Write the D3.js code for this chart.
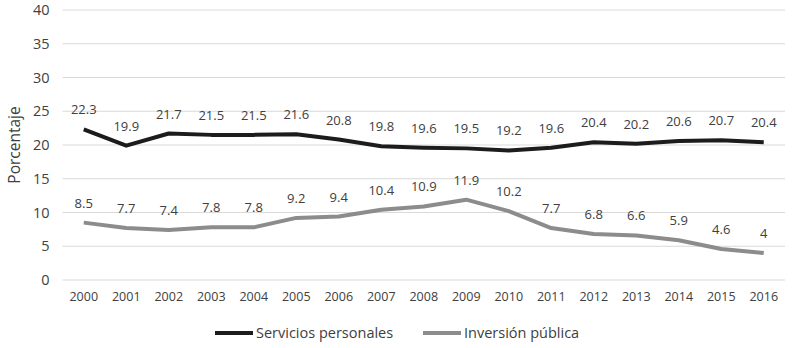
<!DOCTYPE html>
<html>
<head>
<meta charset="utf-8">
<script src="https://cdn.jsdelivr.net/npm/d3@7"></script>
<style>
  html, body { margin: 0; padding: 0; background: #fff; }
  svg { display: block; }
</style>
</head>
<body>
<div id="chart"></div>
<script>
// years along the x axis
const YEARS = ['2000','2001','2002','2003','2004','2005','2006','2007','2008',
  '2009','2010','2011','2012','2013','2014','2015','2016'];
// percentage values per series
const SERVICIOS = [22.3, 19.9, 21.7, 21.5, 21.5, 21.6, 20.8, 19.8, 19.6, 19.5, 19.2, 19.6, 20.4, 20.2, 20.6, 20.7, 20.4];
const INVERSION = [8.5, 7.7, 7.4, 7.8, 7.8, 9.2, 9.4, 10.4, 10.9, 11.9, 10.2, 7.7, 6.8, 6.6, 5.9, 4.6, 4];
const Y_TICKS = [0, 5, 10, 15, 20, 25, 30, 35, 40];
const SERIES_NAMES = ['Servicios personales', 'Inversión pública'];

const W = 800, H = 348;
const m = { t: 10, r: 15, b: 68, l: 62.5 };
const FONT = "'Open Sans', 'Noto Sans', sans-serif";
const TEXT = '#404040';

const svg = d3.select('#chart').append('svg')
  .attr('width', W).attr('height', H);

const x = d3.scaleBand().domain(YEARS).range([m.l, W - m.r]);
const y = d3.scaleLinear().domain([0, 40]).range([H - m.b, m.t]);
const cx = d => x(d) + x.bandwidth() / 2;

// grid
svg.append('g').selectAll('line')
  .data(Y_TICKS).join('line')
  .attr('x1', m.l).attr('x2', W - m.r)
  .attr('y1', d => y(d)).attr('y2', d => y(d))
  .attr('stroke', '#d9d9d9').attr('stroke-width', 1);

// y axis labels
svg.append('g').attr('transform', `translate(${m.l - 13},0)`)
  .call(d3.axisLeft(y).tickValues(Y_TICKS).tickSize(0).tickPadding(0))
  .attr('font-family', FONT).attr('font-size', 14.5).attr('color', TEXT)
  .call(g => g.select('.domain').remove());

// x axis labels
svg.append('g').attr('transform', `translate(0,${y(0) + 12})`)
  .call(d3.axisBottom(x).tickSize(0).tickPadding(0))
  .attr('font-family', FONT).attr('font-size', 12.5).attr('color', TEXT)
  .call(g => g.select('.domain').remove())
  .call(g => g.selectAll('text').attr('dy', '0.71em'));

// y title
svg.append('text')
  .attr('transform', `translate(20,${y(20)}) rotate(-90)`)
  .attr('text-anchor', 'middle')
  .attr('font-family', FONT).attr('font-size', 15.5).attr('fill', TEXT)
  .text('Porcentaje');

const series = [
  { name: SERIES_NAMES[0], values: SERVICIOS, color: '#1c1c1c' },
  { name: SERIES_NAMES[1], values: INVERSION, color: '#8c8c8c' }
];

const line = d3.line()
  .x((d, i) => cx(YEARS[i]))
  .y(d => y(d));

series.forEach(s => {
  svg.append('path').datum(s.values)
    .attr('fill', 'none')
    .attr('stroke', s.color)
    .attr('stroke-width', 4)
    .attr('stroke-linejoin', 'round')
    .attr('d', line);

  svg.append('g').selectAll('text')
    .data(s.values).join('text')
    .attr('x', (d, i) => cx(YEARS[i]))
    .attr('y', d => y(d) - 15)
    .attr('text-anchor', 'middle')
    .attr('font-family', FONT).attr('font-size', 13).attr('fill', TEXT)
    .text(d => d);
});

// legend
const lg = svg.append('g').attr('transform', `translate(0,${H - 15})`);
const legendItems = [{ x: 215, tx: 256 }, { x: 423, tx: 464 }];
series.forEach((s, i) => {
  lg.append('line')
    .attr('x1', legendItems[i].x).attr('x2', legendItems[i].x + 38)
    .attr('y1', 0).attr('y2', 0)
    .attr('stroke', s.color).attr('stroke-width', 4);
  lg.append('text')
    .attr('x', legendItems[i].tx).attr('y', 0).attr('dy', '0.35em')
    .attr('font-family', FONT).attr('font-size', 14.5).attr('fill', TEXT)
    .text(s.name);
});
</script>
</body>
</html>
